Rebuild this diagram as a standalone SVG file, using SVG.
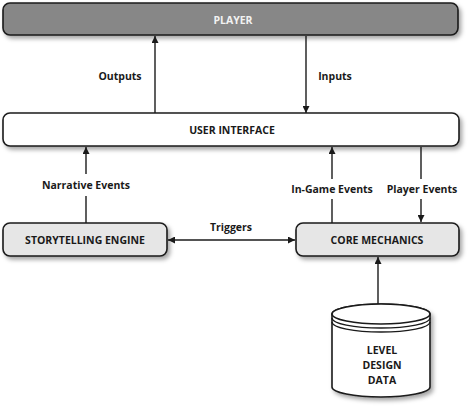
<svg xmlns="http://www.w3.org/2000/svg" width="471" height="409" viewBox="0 0 471 409">
<style>
.box{stroke:#1a1a1a;stroke-width:1.6}
.t{font-family:"Open Sans","DejaVu Sans",sans-serif;font-weight:bold;font-size:10.5px;fill:#1a1a1a;text-anchor:middle}
.w{fill:#f2f2f2}
.c{stroke:#1a1a1a;stroke-width:1.4;fill:none}
</style>
<defs>
<filter id="sh" x="-5%" y="-20%" width="115%" height="160%">
<feDropShadow dx="2.5" dy="3" stdDeviation="2" flood-color="#000" flood-opacity="0.35"/>
</filter>
<marker id="ah" viewBox="0 0 10 10" refX="10" refY="5" markerWidth="7" markerHeight="7" markerUnits="userSpaceOnUse" orient="auto-start-reverse">
<path d="M0,0 L10,5 L0,10 z" fill="#1a1a1a"/>
</marker>
</defs>
<g id="player">
<rect class="box" x="3" y="3" width="455" height="32" rx="7" fill="#878787" filter="url(#sh)"/>
<text class="t w" x="233" y="24">PLAYER</text>
</g>
<g id="ui">
<rect class="box" x="3" y="113" width="456" height="33" rx="7" fill="#ffffff" filter="url(#sh)"/>
<text class="t" x="232" y="134">USER INTERFACE</text>
</g>
<g id="storytelling">
<rect class="box" x="3" y="223" width="164" height="33" rx="7" fill="#e6e6e6" filter="url(#sh)"/>
<text class="t" x="85" y="244">STORYTELLING ENGINE</text>
</g>
<g id="core">
<rect class="box" x="296" y="223" width="163" height="33" rx="7" fill="#e6e6e6" filter="url(#sh)"/>
<text class="t" x="377" y="244">CORE MECHANICS</text>
</g>
<g id="leveldata">
<g filter="url(#sh)">
<path class="box" d="M332,314 L332,387 A49,10 0 0 0 430,387 L430,314 A49,10 0 0 0 332,314 Z" fill="#ffffff"/>
</g>
<ellipse class="box" cx="381" cy="314" rx="49" ry="10" fill="#ffffff"/>
<path class="c" d="M332,318 A49,10 0 0 0 430,318"/>
<path class="c" d="M332,322 A49,10 0 0 0 430,322"/>
<text class="t" x="382" y="354">LEVEL</text>
<text class="t" x="382" y="369">DESIGN</text>
<text class="t" x="382" y="384">DATA</text>
</g>
<g id="connectors">
<line class="c" x1="155" y1="113" x2="155" y2="36" marker-end="url(#ah)"/>
<line class="c" x1="306" y1="36" x2="306" y2="113" marker-end="url(#ah)"/>
<line class="c" x1="86" y1="223" x2="86" y2="196"/>
<line class="c" x1="86" y1="174" x2="86" y2="147" marker-end="url(#ah)"/>
<line class="c" x1="332" y1="223" x2="332" y2="199"/>
<line class="c" x1="332" y1="179" x2="332" y2="147" marker-end="url(#ah)"/>
<line class="c" x1="421" y1="147" x2="421" y2="179"/>
<line class="c" x1="421" y1="199" x2="421" y2="222" marker-end="url(#ah)"/>
<line class="c" x1="168" y1="240" x2="295" y2="240" marker-start="url(#ah)" marker-end="url(#ah)"/>
<line class="c" x1="378" y1="304" x2="378" y2="257" marker-end="url(#ah)"/>
<text class="t" x="120" y="80">Outputs</text>
<text class="t" x="335" y="80">Inputs</text>
<text class="t" x="86" y="189">Narrative Events</text>
<text class="t" x="332" y="193">In-Game Events</text>
<text class="t" x="422" y="193">Player Events</text>
<text class="t" x="231" y="231">Triggers</text>
</g>
</svg>
